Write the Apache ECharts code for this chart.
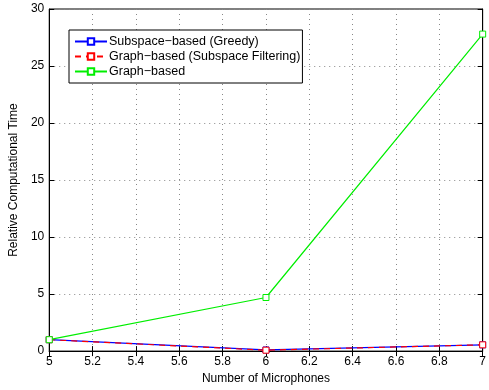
<!DOCTYPE html>
<html>
<head>
<meta charset="utf-8">
<script src="https://cdn.jsdelivr.net/npm/echarts@6/dist/echarts.min.js"></script>
<style>
html,body{margin:0;padding:0;background:#fff;}
#chart{width:489px;height:390px;}
</style>
</head>
<body>
<div id="chart"></div>
<script>
// Number of microphones on the x axis
const micCounts = [5, 6, 7];
// Relative computational time per method
const greedyTime = [1.0, 0.1, 0.55];
const filteringTime = [1.0, 0.08, 0.55];
const graphTime = [1.0, 4.7, 27.8];
const seriesNames = ['Subspace\u2212based (Greedy)', 'Graph\u2212based (Subspace Filtering)', 'Graph\u2212based'];

const font = 'Liberation Sans, Arial, Helvetica, sans-serif';
const pairs = (ys) => micCounts.map((x, i) => [x, ys[i]]);

const chart = echarts.init(document.getElementById('chart'));
const tickStyle = { show: true, inside: true, length: 5, lineStyle: { color: '#000' } };
const dotted = { show: true, lineStyle: { color: '#888', type: [1, 4], width: 1 } };

chart.setOption({
  animation: false,
  backgroundColor: '#fff',
  textStyle: { fontFamily: font },
  grid: { left: 45, right: 5, top: 9, bottom: 36, show: true, borderColor: '#000', borderWidth: 1 },
  xAxis: [{
    type: 'value', min: 5, max: 7, interval: 0.2,
    name: 'Number of Microphones', nameLocation: 'middle', nameGap: 19,
    nameTextStyle: { fontFamily: font, fontSize: 12, color: '#000' },
    axisLine: { show: true, lineStyle: { color: '#000' } },
    axisTick: tickStyle,
    axisLabel: { color: '#000', fontFamily: font, fontSize: 12, margin: 5,
      formatter: v => String(Math.round(v * 10) / 10) },
    splitLine: dotted
  }, {
    type: 'value', min: 5, max: 7, interval: 0.2, position: 'top',
    axisLine: { show: true, lineStyle: { color: '#000' } },
    axisTick: tickStyle, axisLabel: { show: false }, splitLine: { show: false }
  }],
  yAxis: [{
    type: 'value', min: 0, max: 30, interval: 5,
    name: 'Relative Computational Time', nameLocation: 'middle', nameGap: 27,
    nameTextStyle: { fontFamily: font, fontSize: 12, color: '#000' },
    axisLine: { show: true, lineStyle: { color: '#000' } },
    axisTick: tickStyle,
    axisLabel: { color: '#000', fontFamily: font, fontSize: 12, margin: 5 },
    splitLine: dotted
  }, {
    type: 'value', min: 0, max: 30, interval: 5, position: 'right',
    axisLine: { show: true, lineStyle: { color: '#000' } },
    axisTick: tickStyle, axisLabel: { show: false }, splitLine: { show: false }
  }],
  legend: {
    orient: 'vertical', left: 69, top: 30,
    padding: [5, 2, 5, 5],
    borderColor: '#000', borderWidth: 1, backgroundColor: '#fff',
    itemGap: 2, itemWidth: 32, itemHeight: 8,
    textStyle: { fontFamily: font, fontSize: 12.5, color: '#000', padding: [0, 0, 0, -3] },
    data: seriesNames
  },
  series: [{
    name: seriesNames[0], type: 'line', data: pairs(greedyTime),
    symbol: 'rect', symbolSize: 6, showAllSymbol: true,
    lineStyle: { color: '#0000ff', width: 1.2 },
    itemStyle: { color: '#fff', borderColor: '#0000ff', borderWidth: 1 }, z: 2
  }, {
    name: seriesNames[1], type: 'line', data: pairs(filteringTime),
    symbol: 'rect', symbolSize: 6,
    lineStyle: { color: '#ff0000', width: 1.2, type: [6, 5] },
    itemStyle: { color: '#fff', borderColor: '#ff0000', borderWidth: 1 }, z: 3
  }, {
    name: seriesNames[2], type: 'line', data: pairs(graphTime),
    symbol: 'rect', symbolSize: 6,
    lineStyle: { color: '#00ee00', width: 1.2 },
    itemStyle: { color: '#fff', borderColor: '#00ee00', borderWidth: 1 }, z: 4
  }]
});
</script>
</body>
</html>
